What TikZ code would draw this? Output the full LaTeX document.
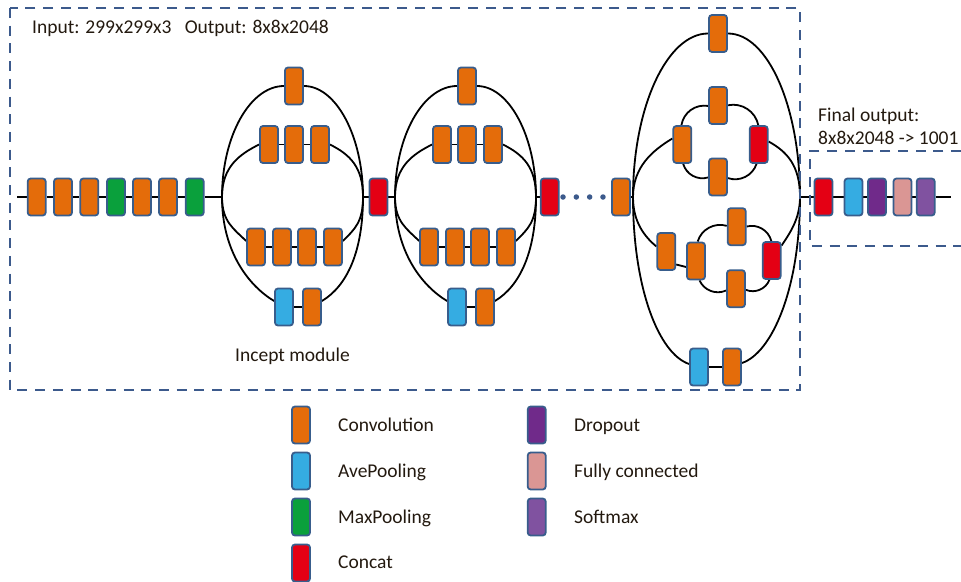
\documentclass[tikz,border=0pt]{standalone}
\usepackage{fontspec}
\setmainfont{Carlito}
\usetikzlibrary{backgrounds}
\definecolor{convc}{RGB}{228,108,10}
\definecolor{avec}{RGB}{53,172,226}
\definecolor{maxc}{RGB}{10,160,60}
\definecolor{catc}{RGB}{228,0,20}
\definecolor{dropc}{RGB}{112,42,138}
\definecolor{fcc}{RGB}{218,150,148}
\definecolor{softc}{RGB}{128,82,160}
\definecolor{bord}{RGB}{56,93,140}
\definecolor{dashc}{RGB}{60,90,140}
\definecolor{txt}{RGB}{35,25,15}
\tikzset{
  blk/.style={draw=bord, line width=1.8pt, rounded corners=3pt, minimum width=18pt, minimum height=37pt, inner sep=0pt},
  conv/.style={blk, fill=convc},
  avep/.style={blk, fill=avec},
  maxp/.style={blk, fill=maxc},
  cat/.style={blk, fill=catc},
  drop/.style={blk, fill=dropc},
  fullc/.style={blk, fill=fcc},
  soft/.style={blk, fill=softc},
  wire/.style={line width=1.8pt, black},
  lbl/.style={font=\fontsize{19.5}{23}\selectfont, text=txt, inner sep=0pt, anchor=base west},
  frame/.style={draw=dashc, line width=2.5pt, dash pattern=on 10pt off 7.7pt},
  dotline/.style={draw=dashc, line width=5.5pt, line cap=round, dash pattern=on 0pt off 13.33pt}
}
\begin{document}
\begin{tikzpicture}[x=1pt,y=1pt]
\useasboundingbox (0,0) rectangle (961,-581);
% frames
\draw[frame] (10,-8) rectangle (800,-390);
\draw[frame] (961,-151) -- (810,-151) -- (810,-246) -- (961,-246);
% texts
\node[lbl] (tIO) at (32,-33) {Input: 299x299x3\ \ \ Output: 8x8x2048};
\node[lbl] (tInc) at (235,-361) {Incept module};
\node[lbl] (tFin1) at (818,-121.5) {Final output:};
\node[lbl] (tFin2) at (818,-144) {8x8x2048 -> 1001};
% stem
\coordinate (in) at (17,-197);
\node[conv] (c1) at (36.7,-197) {};
\node[conv] (c2) at (63,-197) {};
\node[conv] (c3) at (89.3,-197) {};
\node[maxp] (g1) at (116,-197) {};
\node[conv] (c4) at (142,-197) {};
\node[conv] (c5) at (168,-197) {};
\node[maxp] (g2) at (194.7,-197) {};
% incept modules A and B
\foreach \m/\d in {A/0,B/173}{
  \coordinate (\m L) at ({222+\d},-197);
  \coordinate (\m R) at ({363+\d},-197);
  \node[conv] (\m t) at ({294+\d},-86) {};
  \node[conv] (\m a1) at ({269+\d},-144.5) {};
  \node[conv] (\m a2) at ({294+\d},-144.5) {};
  \node[conv] (\m a3) at ({320+\d},-144.5) {};
  \node[conv] (\m b1) at ({256+\d},-247) {};
  \node[conv] (\m b2) at ({282+\d},-247) {};
  \node[conv] (\m b3) at ({307+\d},-247) {};
  \node[conv] (\m b4) at ({333+\d},-247) {};
  \node[avep] (\m p) at ({284+\d},-307) {};
  \node[conv] (\m q) at ({312+\d},-307) {};
}
\node[cat] (k1) at (378.5,-197) {};
\node[cat] (k2) at (549.7,-197) {};
% module C
\node[conv] (b3in) at (621,-197) {};
\coordinate (CL) at (633,-197);
\coordinate (CR) at (800,-197);
\node[conv] (Ct) at (718,-33.5) {};
\node[conv] (ul) at (682.3,-144.5) {};
\node[conv] (ut) at (718,-105.5) {};
\node[conv] (ub) at (718,-177) {};
\node[cat] (ur) at (758.7,-144.5) {};
\node[conv] (lo1) at (666.3,-251.5) {};
\node[conv] (lo2) at (696,-261) {};
\node[conv] (lt) at (736.7,-226.7) {};
\node[conv] (lb) at (736,-288.7) {};
\node[cat] (lr) at (771.7,-260.5) {};
\node[avep] (Cp) at (699,-367) {};
\node[conv] (Cq) at (732,-367) {};
% final
\node[cat] (f1) at (823.5,-197) {};
\node[avep] (f2) at (853.5,-197) {};
\node[drop] (f3) at (877,-197) {};
\node[fullc] (f4) at (902.5,-197) {};
\node[soft] (f5) at (925.7,-197) {};
\coordinate (out) at (951,-197);
% legend
\node[conv] (lg1) at (301,-425) {};
\node[avep] (lg2) at (301,-471) {};
\node[maxp] (lg3) at (301,-517) {};
\node[cat] (lg4) at (301,-563) {};
\node[drop] (lg5) at (536.7,-425) {};
\node[fullc] (lg6) at (536.7,-471) {};
\node[soft] (lg7) at (536.7,-517) {};
\node[lbl] (lt1) at (338,-431.5) {Convolution};
\node[lbl] (lt2) at (338,-477.5) {AvePooling};
\node[lbl] (lt3) at (338,-523.5) {MaxPooling};
\node[lbl] (lt4) at (338,-568.5) {Concat};
\node[lbl] (lt5) at (574,-431.5) {Dropout};
\node[lbl] (lt6) at (574,-477.5) {Fully connected};
\node[lbl] (lt7) at (574,-523.5) {Softmax};
% connectors
\begin{pgfonlayer}{background}
\draw[wire] (in) -- (c1) -- (c2) -- (c3) -- (g1) -- (c4) -- (c5) -- (g2) -- (AL);
\draw[wire] (AR) -- (k1) -- (BL);
\draw[wire] (BR) -- (k2);
\draw[wire] (b3in) -- (CL);
\draw[wire] (CR) -- (f1) -- (f2) -- (f3) -- (f4) -- (f5) -- (out);
\foreach \m in {A,B}{
  \draw[wire] (\m L) .. controls +(0,61) and +(-34,0) .. (\m t.west);
  \draw[wire] (\m t.east) .. controls +(32,0) and +(0,61) .. (\m R);
  \draw[wire] (\m L) .. controls +(0,30) and +(-20,-10) .. (\m a1.west);
  \draw[wire] (\m a3.east) .. controls +(20,-10) and +(0,30) .. (\m R);
  \draw[wire] (\m a1) -- (\m a2) -- (\m a3);
  \draw[wire] (\m L) .. controls +(0,-25) and +(-12,12) .. ([yshift=6pt]\m b1.west);
  \draw[wire] ([yshift=6pt]\m b4.east) .. controls +(12,12) and +(0,-25) .. (\m R);
  \draw[wire] (\m b1) -- (\m b2) -- (\m b3) -- (\m b4);
  \draw[wire] (\m L) .. controls +(0,-55) and +(-25,15) .. ([yshift=6pt]\m p.west);
  \draw[wire] ([yshift=6pt]\m q.east) .. controls +(25,15) and +(0,-55) .. (\m R);
  \draw[wire] (\m p) -- (\m q);
}
% module C curves
\draw[wire] (CL) .. controls +(0,90) and +(-41,0) .. (Ct.west);
\draw[wire] (Ct.east) .. controls +(40,0) and +(0,90) .. (CR);
\draw[wire] (CL) .. controls +(0,-92) and +(-30,10) .. ([yshift=3pt]Cp.west);
\draw[wire] ([yshift=4pt]Cq.east) .. controls +(30,10) and +(0,-92) .. (CR);
\draw[wire] (Cp) -- (Cq);
\draw[wire] (CL) .. controls +(0,30) and +(-20,-12) .. ([yshift=6pt]ul.west);
\draw[wire] ([yshift=3pt]ur.east) .. controls +(18,-10) and +(0,32) .. (CR);
\draw[wire] (ul) to[bend left=45] (ut);
\draw[wire] (ut) to[bend left=45] (ur);
\draw[wire] (ur) to[bend left=45] (ub);
\draw[wire] (ub) to[bend left=45] (ul);
\draw[wire] (CL) .. controls +(0,-25) and +(-12,10) .. ([yshift=5pt]lo1.west);
\draw[wire] ([yshift=-13pt]lo1.east) -- ([yshift=-6pt]lo2.west);
\draw[wire] (lo2) to[bend left=45] (lt);
\draw[wire] (lt) to[bend left=45] (lr);
\draw[wire] (lr) to[bend left=45] (lb);
\draw[wire] (lb) to[bend left=45] (lo2);
\draw[wire] ([yshift=15pt]lr.east) .. controls +(8,12) and +(0,-22) .. (CR);
\draw[dotline, shorten <=3.4pt, shorten >=8pt] (k2.east) -- (b3in.west);
\end{pgfonlayer}
\end{tikzpicture}
\end{document}
